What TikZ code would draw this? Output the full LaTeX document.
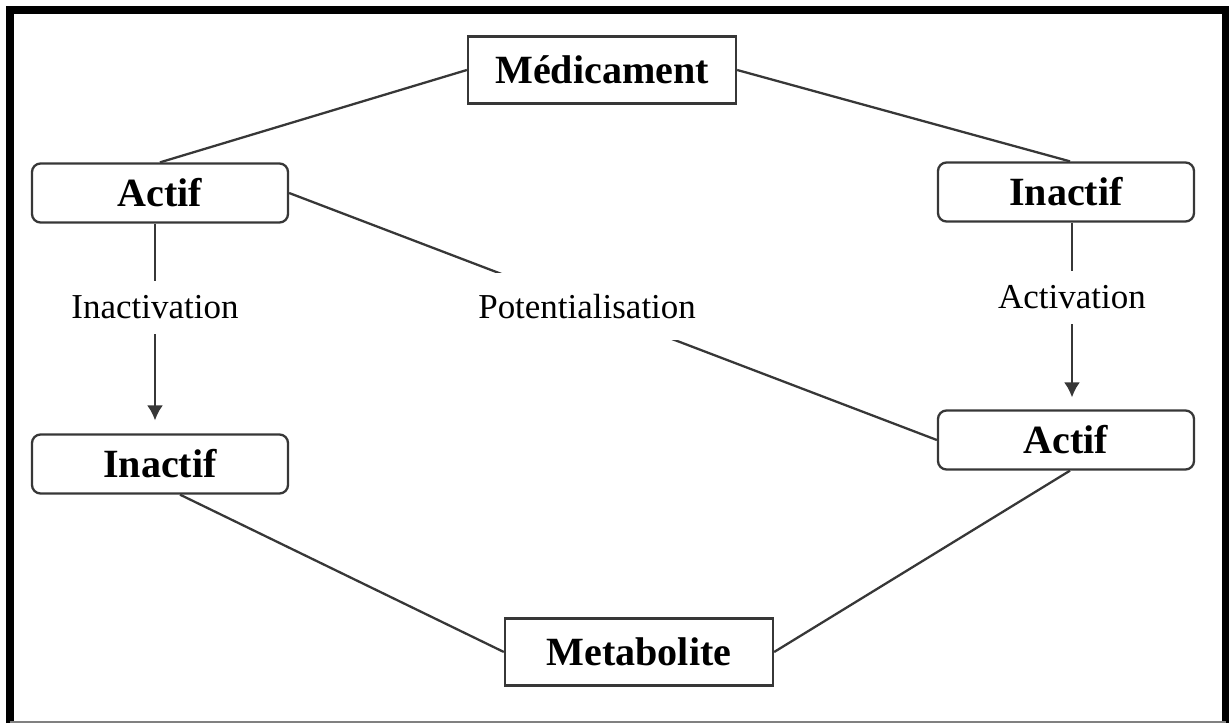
\documentclass[tikz,border=0pt]{standalone}
\usepackage{fontspec}
\setmainfont{Liberation Serif}
\usetikzlibrary{arrows.meta}
\tikzset{>={Latex[length=0.3cm,width=0.32cm]}}
\definecolor{linegray}{RGB}{55,55,55}
\tikzstyle{link}=[draw=linegray,line width=1.3pt]
\tikzstyle{squarebox}=[draw=linegray,line width=1.3pt,minimum width=5.36cm,minimum height=1.34cm,font=\fontsize{22.8}{27}\selectfont\bfseries]
\tikzstyle{roundbox}=[draw=linegray,line width=1.3pt,rounded corners=0.17cm,minimum width=5.12cm,minimum height=1.18cm,font=\fontsize{22.8}{27}\selectfont\bfseries]
\tikzstyle{steplabel}=[fill=white,inner xsep=2pt,inner ysep=0.3cm,font=\fontsize{19.9}{24}\selectfont]

\begin{document}
\begin{tikzpicture}
  \useasboundingbox (0,0) rectangle (24.58,14.48);

  % frame
  \draw[line width=0.16cm,miter limit=10] (0.2,0.02) -- (0.2,14.28) -- (24.51,14.28) -- (24.51,0.02);
  \draw[gray,line width=0.04cm] (0.2,0.05) -- (24.51,0.05);

  \node[squarebox] (medicament) at (12.04,13.08) {Médicament};
  \node[roundbox] (actif1) at (3.2,10.62) {Actif};
  \node[roundbox] (inactif2) at (21.32,10.64) {Inactif};
  \node[roundbox] (actif2) at (21.32,5.68) {Actif};
  \node[roundbox] (inactif1) at (3.2,5.2) {Inactif};
  \node[squarebox] (metabolite) at (12.78,1.44) {Metabolite};

  \draw[link] (medicament.west) -- (actif1.north);
  \draw[link] (medicament.east) -- ([xshift=0.08cm]inactif2.north);

  \draw[link,->,shorten >=0.26cm] ([xshift=-0.1cm]actif1.south) --
    node[steplabel,pos=0.40] {Inactivation} ([xshift=-0.1cm]inactif1.north);
  \draw[link,->,shorten >=0.24cm] ([xshift=0.12cm]inactif2.south) --
    node[steplabel,pos=0.40] {Activation} ([xshift=0.12cm]actif2.north);

  \draw[link] (actif1.east) --
    node[steplabel,pos=0.46,inner ysep=0.42cm] {Potentialisation} (actif2.west);

  \draw[link] ([xshift=0.4cm]inactif1.south) -- (metabolite.west);
  \draw[link] ([xshift=0.08cm]actif2.south) -- (metabolite.east);

\end{tikzpicture}
\end{document}
